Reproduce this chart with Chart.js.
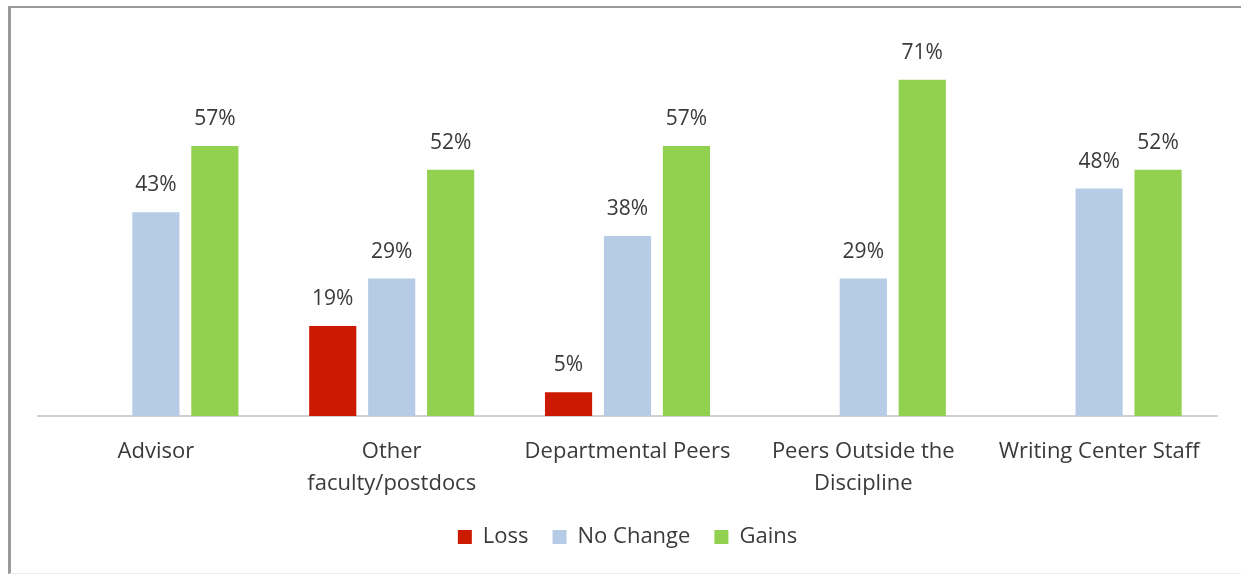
<!DOCTYPE html>
<html>
<head>
<meta charset="utf-8">
<script src="https://cdn.jsdelivr.net/npm/chart.js@4"></script>
<style>
    html, body { margin: 0; padding: 0; background: #ffffff; overflow: hidden; }
    #wrap { position: relative; width: 1241px; height: 575px; overflow: hidden; }
    #frame {
        position: absolute; left: 8px; top: 6px; width: 1250px; height: 568px;
        border-left: 3px solid #9a9a9a; border-top: 2px solid #9a9a9a;
        border-bottom: 1px solid #ececec;
        box-sizing: border-box; pointer-events: none;
    }
    canvas { position: absolute; left: 0; top: 0; }
</style>
</head>
<body>
<div id="wrap">
    <canvas id="chart" width="1241" height="575"></canvas>
    <div id="frame"></div>
</div>
<script>
const categories = ['Advisor', ['Other', 'faculty/postdocs'], 'Departmental Peers', ['Peers Outside the', 'Discipline'], 'Writing Center Staff'];
const lossValues = [null, 19, 5, null, null];
const noChangeValues = [43, 29, 38, 29, 48];
const gainsValues = [57, 52, 57, 71, 52];

const textColor = '#3a3a3a';
const fontFamily = '"Open Sans", Lato, sans-serif';

// draws the percentage above each bar
const valueLabels = {
    id: 'valueLabels',
    afterDatasetsDraw(chart) {
        const ctx = chart.ctx;
        ctx.save();
        ctx.fillStyle = textColor;
        ctx.font = '21px ' + fontFamily;
        ctx.textAlign = 'center';
        ctx.textBaseline = 'middle';
        chart.data.datasets.forEach((ds, i) => {
            const meta = chart.getDatasetMeta(i);
            meta.data.forEach((bar, j) => {
                const v = ds.data[j];
                if (v === null || v === undefined) return;
                ctx.fillText(v + '%', bar.x, bar.y - 27);
            });
        });
        ctx.restore();
    }
};

new Chart(document.getElementById('chart').getContext('2d'), {
    type: 'bar',
    data: {
        labels: categories,
        datasets: [
            { label: 'Loss', data: lossValues, backgroundColor: '#cc1a00' },
            { label: 'No Change', data: noChangeValues, backgroundColor: '#b6cbe5' },
            { label: 'Gains', data: gainsValues, backgroundColor: '#92d050' }
        ]
    },
    options: {
        responsive: false,
        animation: false,
        categoryPercentage: 0.75,
        barPercentage: 0.8,
        layout: { padding: { left: 38, right: 24, top: 37, bottom: 17 } },
        scales: {
            x: {
                grid: { display: false, drawTicks: false },
                border: { display: true, color: '#d0d0d0', width: 2 },
                ticks: {
                    color: textColor,
                    font: { family: fontFamily, size: 22, lineHeight: 1.45 },
                    padding: 20,
                    maxRotation: 0,
                    autoSkip: false
                },
                // fixed axis band so the legend spacing stays as in the original
                afterFit(scale) { scale.height = 86; }
            },
            y: {
                display: false,
                min: 0,
                max: 80
            }
        },
        plugins: {
            legend: {
                position: 'bottom',
                labels: {
                    color: textColor,
                    font: { family: fontFamily, size: 22 },
                    boxWidth: 14,
                    boxHeight: 14,
                    padding: 24
                }
            },
            tooltip: { enabled: false }
        }
    },
    plugins: [valueLabels]
});
</script>
</body>
</html>
